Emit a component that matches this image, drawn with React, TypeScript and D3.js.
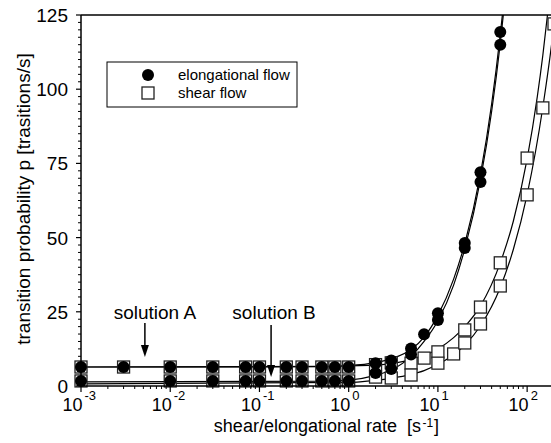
import React from "react";
import * as d3 from "d3";

// ---- data ----
const elongARates = [0.001, 0.003, 0.01, 0.03, 0.07, 0.1, 0.2, 0.3, 0.5, 0.7, 1, 2, 3, 5, 7, 10, 20, 30, 50];
const elongAValues = [6.4, 6.4, 6.4, 6.4, 6.4, 6.4, 6.4, 6.4, 6.4, 6.4, 6.4, 7.7, 8.6, 12.6, 17.4, 24.5, 48.2, 72.0, 119.3];
const elongBRates = [0.001, 0.01, 0.03, 0.07, 0.1, 0.2, 0.3, 0.5, 0.7, 1, 2, 3, 5, 10, 20, 30, 50];
const elongBValues = [1.7, 1.7, 1.7, 1.7, 1.7, 1.7, 1.7, 1.7, 1.7, 1.7, 4.4, 5.7, 10.6, 22.2, 46.5, 68.7, 115.0];

const shearARates = [0.001, 0.003, 0.01, 0.03, 0.07, 0.1, 0.2, 0.3, 0.5, 0.7, 1, 2, 3, 5, 7, 10, 20, 30, 50, 100];
const shearAValues = [6.4, 6.4, 6.4, 6.4, 6.4, 6.4, 6.4, 6.4, 6.4, 6.4, 6.4, 7.2, 7.8, 7.7, 9.4, 11.5, 18.9, 26.6, 41.5, 76.8];
const shearBRates = [0.001, 0.01, 0.03, 0.07, 0.1, 0.2, 0.3, 0.5, 0.7, 1, 2, 3, 5, 10, 15, 20, 30, 50, 100, 150, 200];
const shearBValues = [1.7, 1.7, 1.7, 1.7, 1.7, 1.7, 1.7, 1.7, 1.7, 1.7, 3.0, 2.7, 3.7, 7.7, 10.8, 14.5, 20.9, 33.7, 64.4, 93.7, 122.0];

// fitted curves
const fitElongARates = [0.001, 0.5, 1, 2, 3, 5, 7, 10, 15, 20, 30, 40, 50, 53];
const fitElongAValues = [6.4, 6.6, 6.9, 7.9, 9.2, 12.3, 16.5, 23.8, 36.0, 48.0, 71.5, 95.0, 118.5, 125.5];
const fitElongBRates = [0.001, 0.5, 1, 2, 3, 5, 7, 10, 15, 20, 30, 40, 50, 54.5];
const fitElongBValues = [1.4, 1.6, 2.0, 3.6, 5.4, 10.0, 15.0, 22.0, 34.0, 46.2, 69.5, 92.5, 115.5, 126.0];
const fitShearARates = [0.001, 0.5, 1, 2, 3, 5, 7, 10, 15, 20, 30, 50, 70, 100, 130, 150, 175];
const fitShearAValues = [6.4, 6.5, 6.8, 7.0, 7.6, 8.9, 10.3, 12.5, 16.3, 20.0, 27.0, 41.5, 55.5, 76.5, 97.5, 111.5, 129.0];
const fitShearBRates = [0.001, 1, 2, 3, 5, 7, 10, 15, 20, 30, 50, 70, 100, 150, 200, 210];
const fitShearBValues = [0.7, 1.2, 1.9, 2.6, 3.9, 5.2, 7.3, 10.5, 13.8, 20.3, 33.2, 46.0, 64.5, 94.0, 122.0, 128.0];

const xTickExps = [-3, -2, -1, 0, 1, 2];
const yTicks = [0, 25, 50, 75, 100, 125];

const legendLabels = ["elongational flow", "shear flow"];
const xTitle = "shear/elongational rate  [s";
const xTitleSup = "-1";
const yTitle = "transition probability p [trasitions/s]";
const annotations = [
  { label: "solution A", rate: 0.0052, value: 6.4 },
  { label: "solution B", rate: 0.135, value: 1.7 },
];

const W = 551;
const H = 443;
const FONT = "Liberation Sans, Arial, Helvetica, sans-serif";

export default function App() {
  const x = d3.scaleLog().domain([0.001, 200]).range([81, 554]);
  const y = d3.scaleLinear().domain([0, 125]).range([386, 15]);

  const line = d3
    .line<[number, number]>()
    .x((d) => x(d[0]))
    .y((d) => y(d[1]))
    .curve(d3.curveMonotoneX);

  const zip = (a: number[], b: number[]) => a.map((v, i) => [v, b[i]] as [number, number]);

  const fits = [
    zip(fitShearARates, fitShearAValues),
    zip(fitShearBRates, fitShearBValues),
    zip(fitElongARates, fitElongAValues),
    zip(fitElongBRates, fitElongBValues),
  ];

  const squares = [...zip(shearARates, shearAValues), ...zip(shearBRates, shearBValues)];
  const circles = [...zip(elongARates, elongAValues), ...zip(elongBRates, elongBValues)];

  const xMinor: number[] = [];
  for (let e = -3; e <= 2; e++) {
    for (let m = 2; m <= 9; m++) {
      const v = m * Math.pow(10, e);
      if (v <= 200) xMinor.push(v);
    }
  }
  const yMinor = d3.range(0, 125.001, 2.5).filter((v) => v % 25 !== 0);

  const sq = 12;
  const r = 6;

  return (
    <svg width={W} height={H} style={{ position: "absolute", left: 0, top: 0, background: "#fff" }} fontFamily={FONT}>
      <defs>
        <clipPath id="plotclip">
          <rect x={81} y={15} width={W - 81} height={371} />
        </clipPath>
      </defs>
      <rect width={W} height={H} fill="#fff" />

      {/* fitted curves */}
      <g clipPath="url(#plotclip)">
        {fits.map((f, i) => (
          <path key={i} d={line(f) || ""} fill="none" stroke="#000" strokeWidth={1.2} />
        ))}
      </g>

      {/* squares */}
      <g>
        {squares.map((d, i) => (
          <rect
            key={i}
            x={x(d[0]) - sq / 2}
            y={y(d[1]) - sq / 2}
            width={sq}
            height={sq}
            fill="#fff"
            stroke="#222"
            strokeWidth={1.3}
          />
        ))}
      </g>
      {/* circles */}
      <g>
        {circles.map((d, i) => (
          <circle key={i} cx={x(d[0])} cy={y(d[1])} r={r} fill="#000" />
        ))}
      </g>

      {/* frame */}
      <line x1={81} x2={W} y1={15} y2={15} stroke="#000" strokeWidth={1.5} />
      <line x1={81} x2={81} y1={15} y2={386} stroke="#000" strokeWidth={1.5} />
      <line x1={81} x2={W} y1={386} y2={386} stroke="#000" strokeWidth={1.5} />

      {/* y ticks */}
      {yTicks.map((t) => (
        <g key={t}>
          <line x1={76} x2={81} y1={y(t)} y2={y(t)} stroke="#000" strokeWidth={1.2} />
          <text x={68} y={y(t) + 7} textAnchor="end" fontSize={19}>
            {t}
          </text>
        </g>
      ))}
      {yMinor.map((t) => (
        <line key={t} x1={78} x2={81} y1={y(t)} y2={y(t)} stroke="#000" strokeWidth={1} />
      ))}

      {/* x ticks */}
      {xTickExps.map((e) => {
        const v = Math.pow(10, e);
        return (
          <g key={e}>
            <line x1={x(v)} x2={x(v)} y1={386} y2={392} stroke="#000" strokeWidth={1.2} />
            <text x={x(v) + 1.5} y={411} textAnchor="end" fontSize={18}>
              10
            </text>
            <text x={x(v) + 3.5} y={400} textAnchor="start" fontSize={13}>
              {e}
            </text>
          </g>
        );
      })}
      {xMinor.map((v, i) => (
        <line key={i} x1={x(v)} x2={x(v)} y1={386} y2={389} stroke="#000" strokeWidth={1} />
      ))}

      {/* axis titles */}
      <text x={421} y={432} textAnchor="end" fontSize={18} xmlSpace="preserve">
        {xTitle}
      </text>
      <text x={422.5} y={426.5} textAnchor="start" fontSize={12}>
        {xTitleSup}
      </text>
      <text x={434} y={432} textAnchor="start" fontSize={18}>
        ]
      </text>
      <text transform="translate(30,199) rotate(-90)" textAnchor="middle" fontSize={19}>
        {yTitle}
      </text>

      {/* annotations */}
      {annotations.map((a, i) => {
        const ax = x(a.rate);
        const tipY = i === 0 ? 357 : 377;
        const topY = i === 0 ? 323 : 325;
        return (
          <g key={a.label}>
            <text x={ax + (i === 0 ? 10 : 3)} y={319} textAnchor="middle" fontSize={19}>
              {a.label}
            </text>
            <line x1={ax} x2={ax} y1={topY} y2={tipY - 10} stroke="#000" strokeWidth={1.5} />
            <path d={`M${ax - 4},${tipY - 12} L${ax + 4},${tipY - 12} L${ax},${tipY} Z`} fill="#000" />
          </g>
        );
      })}

      {/* legend */}
      <g>
        <rect x={107} y={62} width={190} height={45} fill="#fff" stroke="#000" strokeWidth={1} />
        <circle cx={148} cy={75} r={6} fill="#000" />
        <rect x={142} y={87} width={12} height={12} fill="#fff" stroke="#222" strokeWidth={1.3} />
        <text x={178} y={80} fontSize={15}>
          {legendLabels[0]}
        </text>
        <text x={178} y={98} fontSize={15}>
          {legendLabels[1]}
        </text>
      </g>
    </svg>
  );
}
